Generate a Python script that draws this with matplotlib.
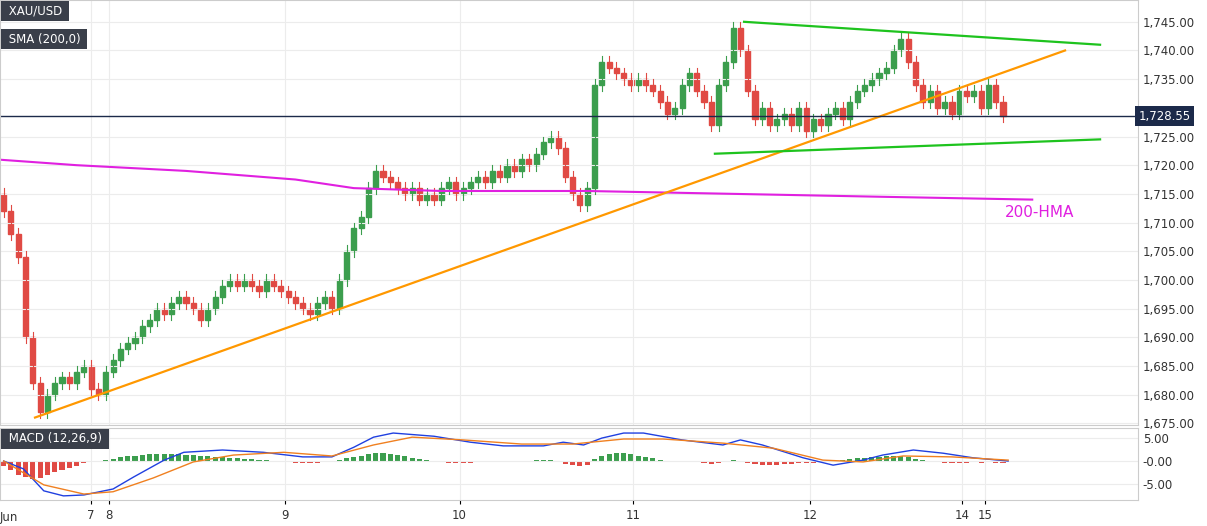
import matplotlib
matplotlib.use("Agg")
import matplotlib.pyplot as plt
import numpy as np
from matplotlib.patches import Rectangle

closes = [1712,1708,1704,1690,1682,1677,
 1680,1682,1683,1682,1684,1685,
 1681,1680,
 1684,1686,1688,1689,1690,1692,1693,1695,1694,1696,1697,1696,1695,1693,1695,1697,1699,1700,1699,1700,1699,1698,1700,1699,
 1698,1697,1696,1695,1694,1696,1697,1695,
 1700,1705,1709,1711,1716,1719,1718,
 1717,1716,1715,1716,1714,1715,1714,1716,1717,1715,
 1716,1717,1718,1717,1719,1718,1720,1719,1721,1720,1722,1724,
 1725,1723,1718,1715,1713,1716,
 1734,1738,1737,1736,1735,1734,
 1735,1734,1733,1731,1729,1730,1734,1736,1733,
 1731,1727,1734,1738,1744,1740,
 1733,1728,1730,1727,1728,1729,1727,1730,1726,
 1728,1727,1729,1730,1728,1731,1733,1734,1735,1736,
 1737,1740,1742,1738,1734,1731,1733,1730,1731,1729,
 1733,1732,1733,1730,1734,1731,1728.55]
first_open = 1715
hist = [-1,-2,-3,-3.5,-4,-3.8, -3,-2.5,-2,-1.5,-1,-0.5, -0.3,-0.1,
 0.3,0.5,0.8,1,1.2,1.4,1.5,1.6,1.6,1.6,1.5,1.4,1.3,1.2,1.0,0.9,0.8,0.7,0.6,0.5,0.4,0.3,0.2,0.1,
 -0.2,-0.3,-0.4,-0.5,-0.5,-0.4,-0.3,-0.2,
 0.3,0.6,0.9,1.2,1.5,1.7,1.8,
 1.6,1.3,1.0,0.7,0.4,0.2,-0.1,-0.3,-0.4,-0.4,
 -0.4,-0.4,-0.3,-0.3,-0.3,-0.2,-0.2,-0.1,-0.1,0.1,0.2,0.3,
 0.2,-0.2,-0.6,-0.9,-1.0,-0.8,
 0.5,1.2,1.6,1.8,1.7,1.5,
 1.2,0.9,0.6,0.3,-0.1,-0.3,-0.3,-0.2,-0.3,
 -0.5,-0.7,-0.5,-0.2,0.2,0.1,
 -0.4,-0.7,-0.8,-0.9,-0.8,-0.7,-0.6,-0.5,-0.5,
 -0.4,-0.3,-0.2,0.1,0.3,0.4,0.6,0.7,0.8,0.9,
 1.0,1.1,1.0,0.8,0.5,0.2,-0.1,-0.3,-0.4,-0.5,
 -0.4,-0.4,-0.3,-0.4,-0.3,-0.4,-0.5]
macd_idx = [0,2.7,5.5,8.2,11,15,17.8,22,24.7,30,35.6,41,45,48,50.7,53.4,59,64,68.5,74,76.7,79.5,82,85,87.7,93,98.6,101,104,109.6,113.7,117.8,120.5,124.7,128.8,132.9,137.7]
macd_val = [0,-1.7,-6.5,-7.6,-7.4,-6.1,-3.5,0.2,1.9,2.4,1.9,0.9,0.9,3.0,5.2,6.1,5.4,4.1,3.3,3.3,4.1,3.5,5.0,6.1,6.1,4.6,3.5,4.6,3.5,0.7,-0.9,0.2,1.3,2.4,1.7,0.7,0]
sig_idx = [0,5.5,11,15,20.5,26,31.5,38.4,45,50.7,56,63,71,78,85,90.4,98.6,105.5,112.3,117.8,123.3,130,137.7]
sig_val = [0,-5.2,-7.2,-6.7,-3.7,-0.2,1.3,1.9,1.1,3.5,5.2,4.6,3.7,3.7,4.8,4.8,3.9,2.8,0.2,-0.2,1.1,0.9,0.2]
sma_idx = [-1,10,25,40,48,60,80,100,120,141]
sma_val = [1721,1720,1719,1717.5,1716,1715.5,1715.5,1715,1714.5,1714]
tick_pos = [12,14.4,38.6,62.5,86.3,110.5,131.4,134.5]
tick_lab = ['7','8','9','10','11','12','14','15']
xlim = (-0.5, 155.5)

UP, DN = '#3c9e4e', '#e04a44'
fig = plt.figure(figsize=(12.07,5.26), dpi=100)
fig.patch.set_facecolor('white')
W, H = 1207, 526
ax = fig.add_axes([0, 1-425/H, 1138/W, 425/H])
ax2 = fig.add_axes([0, 1-500/H, 1138/W, 72/H])
for a in (ax, ax2):
    a.set_facecolor('white')
    a.set_xlim(*xlim)
    a.yaxis.tick_right()
    a.grid(True, color='#ececec', lw=0.8)
    for s in a.spines.values(): s.set_color('#cccccc')
    a.tick_params(axis='y', labelsize=8.5, colors='#333', length=0)
ax.set_ylim(1674.7, 1748.8)
yt = [v for v in np.arange(1675, 1746, 5) if v != 1730]
ax.set_yticks(yt)
ax.set_yticklabels([f'{v:,.2f}' for v in yt])
ax.set_xticks(tick_pos); ax.set_xticklabels([])
ax.tick_params(axis='x', length=0)

opens = [first_open] + closes[:-1]
for i,(o,c) in enumerate(zip(opens, closes)):
    col = UP if c >= o else DN
    hi = max(o,c) + 1.0; lo = min(o,c) - 1.0
    ax.plot([i,i],[lo,hi], color=col, lw=0.8)
    ax.add_patch(Rectangle((i-0.35, min(o,c)), 0.7, max(abs(c-o),0.15), color=col))

ax.plot(sma_idx, sma_val, color='#e020e0', lw=1.5)
ax.plot([4.3, 145.5], [1676, 1740], color='#ff9800', lw=1.6)
ax.plot([101.5, 150.3], [1745, 1741], color='#1ec31e', lw=1.6)
ax.plot([97.5, 150.3], [1722, 1724.5], color='#1ec31e', lw=1.6)
ax.axhline(closes[-1], color='#1c2a4a', lw=1)
ax.text(137.3, 1711, '200-HMA', color='#e020e0', fontsize=11)
ax.text(1.0005, closes[-1], f'{closes[-1]:,.2f}', transform=ax.get_yaxis_transform(),
        va='center', ha='left', fontsize=8.5, color='white',
        bbox=dict(boxstyle='square,pad=0.3', fc='#1c2a4a', ec='none'))
ax.text(0.004, 0.965, ' XAU/USD ', transform=ax.transAxes, fontsize=8.5, color='white',
        bbox=dict(boxstyle='square,pad=0.3', fc='#3a3f4a', ec='none'))
ax.text(0.004, 0.9, ' SMA (200,0) ', transform=ax.transAxes, fontsize=8.5, color='white',
        bbox=dict(boxstyle='square,pad=0.3', fc='#3a3f4a', ec='none'))

ax2.set_ylim(-8.5, 7.2)
ax2.set_yticks([5, 0, -5]); ax2.set_yticklabels(['5.00', '-0.00', '-5.00'])
hcols = [UP if h >= 0 else DN for h in hist]
ax2.bar(range(len(hist)), hist, width=0.7, color=hcols)
ax2.plot(macd_idx, macd_val, color='#2040e0', lw=1)
ax2.plot(sig_idx, sig_val, color='#f08020', lw=1)
ax2.set_xticks(tick_pos); ax2.set_xticklabels(tick_lab, fontsize=8.5, color='#333')
ax2.tick_params(axis='x', length=3)
ax2.text(0.004, 0.8, ' MACD (12,26,9) ', transform=ax2.transAxes, fontsize=8.5, color='white',
         bbox=dict(boxstyle='square,pad=0.3', fc='#3a3f4a', ec='none'))
ax2.text(0.0, -0.24, 'Jun', transform=ax2.transAxes, fontsize=8.5, color='#333', va='center')
fig.savefig('out.png', dpi=100)
